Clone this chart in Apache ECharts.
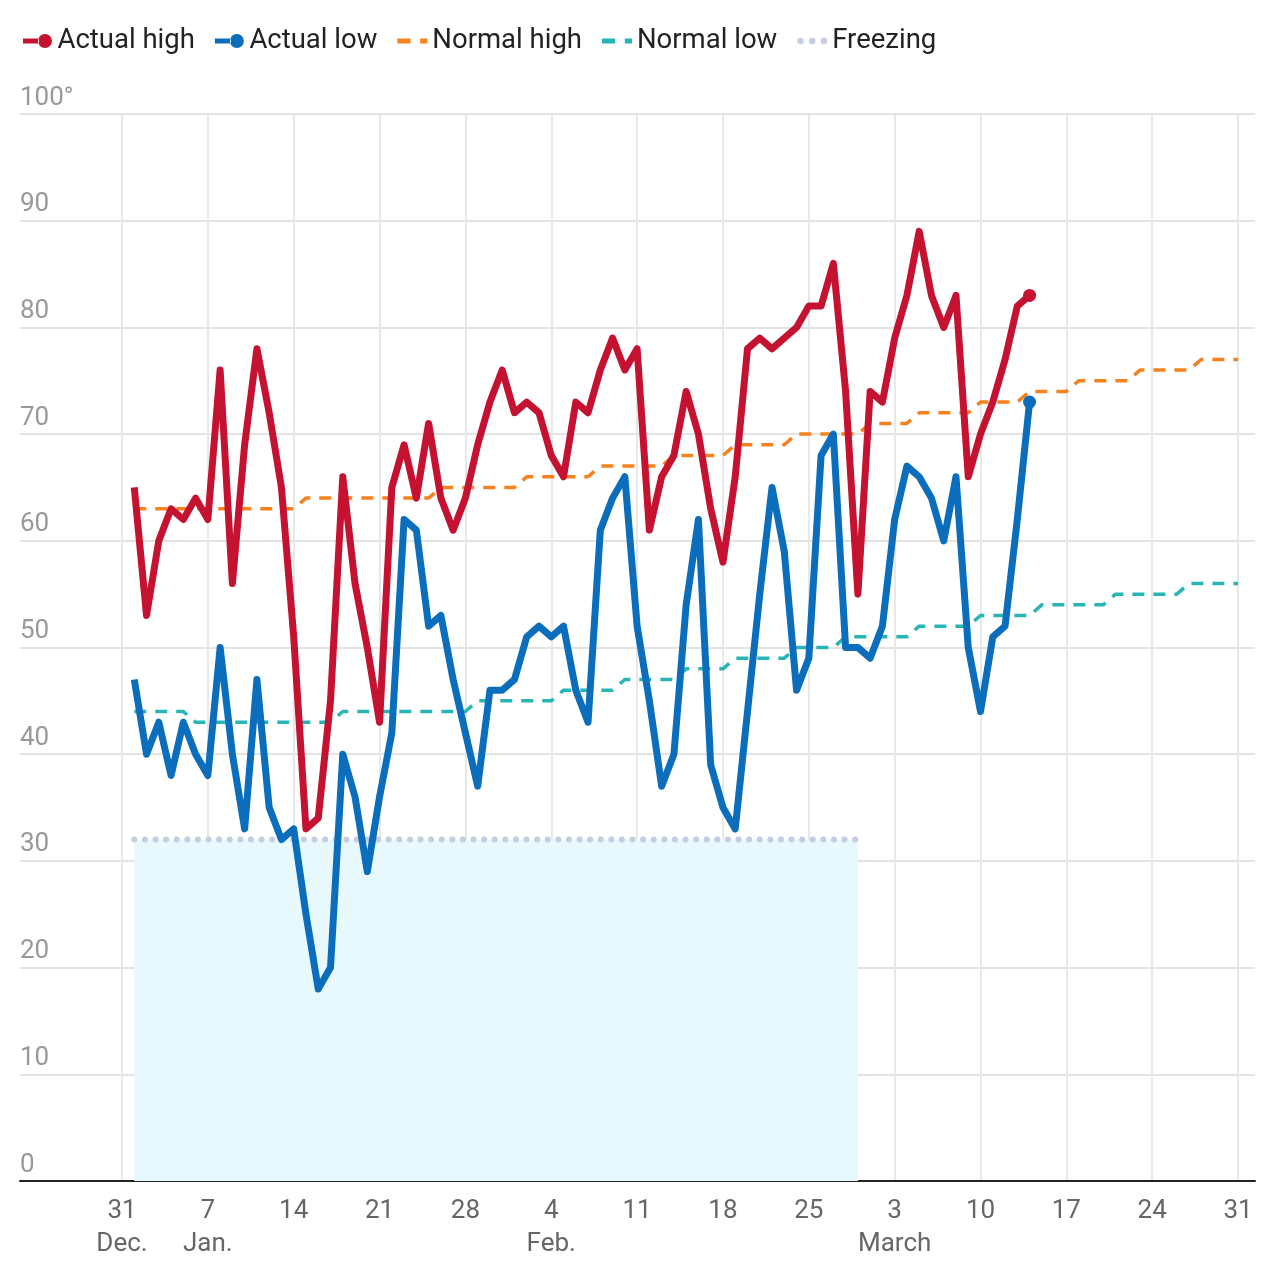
<!DOCTYPE html>
<html><head><meta charset="utf-8">
<script src="https://cdn.jsdelivr.net/npm/echarts@6/dist/echarts.min.js"></script>
<style>html,body{margin:0;padding:0;background:#fff}#chart{width:1280px;height:1280px}</style>
</head><body><div id="chart"></div>
<script>
// day numbers counted from Dec. 31 (Dec. 31 = 0, Jan. 1 = 1, ..., Mar. 31 = 91)
const firstDay = 1;
const actualHigh = [
  65,53,60,63,62,64,62,76,56,69, 78,72,65,51,33,34,45,66,56,50, 43,65,69,64,71,64,61,64,69,73,76,
  72,73,72,68,66,73,72,76,79,76, 78,61,66,68,74,70,63,58,66,78, 79,78,79,80,82,82,86,74,55,
  74,73,79,83,89,83,80,83,66,70, 73,77,82,83
];
const actualLow = [
  47,40,43,38,43,40,38,50,40,33, 47,35,32,33,25,18,20,40,36,29, 36,42,62,61,52,53,47,42,37,46,46,
  47,51,52,51,52,46,43,61,64,66, 52,45,37,40,54,62,39,35,33,44, 55,65,59,46,49,68,70,50,50,
  49,52,62,67,66,64,60,66,50,44, 51,52,62,73
];
const normalHigh = [
  63,63,63,63,63,63,63,63,63,63,63,63,63,63,
  64,64,64,64,64,64,64,64,64,64,64,
  65,65,65,65,65,65,65,
  66,66,66,66,66,66,
  67,67,67,67,67,67,
  68,68,68,68,68,
  69,69,69,69,69,
  70,70,70,70,70,70,
  71,71,71,71,
  72,72,72,72,72,
  73,73,73,73,
  74,74,74,74,
  75,75,75,75,75,
  76,76,76,76,76,
  77,77,77,77
];
const normalLow = [
  44,44,44,44,44,
  43,43,43,43,43,43,43,43,43,43,43,43,
  44,44,44,44,44,44,44,44,44,44,44,
  45,45,45,45,45,45,45,
  46,46,46,46,46,
  47,47,47,47,47,
  48,48,48,48,
  49,49,49,49,49,
  50,50,50,50,
  51,51,51,51,51,51,
  52,52,52,52,52,
  53,53,53,53,53,
  54,54,54,54,54,54,
  55,55,55,55,55,55,
  56,56,56,56,56
];
const freezingDays = [1, 60];
const freezingTemps = [32, 32];
const tickDays = [0,7,14,21,28,35,42,49,56,63,70,77,84,91];
const tickLabels = ['31\nDec.','7\nJan.','14','21','28','4\nFeb.','11','18','25','3\nMarch','10','17','24','31'];

const FONT = 'Roboto, "Noto Sans", sans-serif';
const toPairs = (arr) => arr.map((v, i) => [firstDay + i, v]);
const withEndDot = (arr) => arr.map((v, i) => i === arr.length - 1
  ? { value: [firstDay + i, v], symbol: 'circle', symbolSize: 13 }
  : { value: [firstDay + i, v], symbol: 'none' });

const dotIcon = 'path://M0,4.5 L16,4.5 L16,9.5 L0,9.5 Z M15,7 A7,7 0 1,0 29,7 A7,7 0 1,0 15,7 Z';
const dashIcon = 'path://M0,0 L11,0 L11,4 L0,4 Z M19,0 L25,0 L25,4 L19,4 Z';
const dotsIcon = 'path://M0,2.5 A2.5,2.5 0 1,0 5,2.5 A2.5,2.5 0 1,0 0,2.5 Z M9,2.5 A2.5,2.5 0 1,0 14,2.5 A2.5,2.5 0 1,0 9,2.5 Z M18,2.5 A2.5,2.5 0 1,0 23,2.5 A2.5,2.5 0 1,0 18,2.5 Z';

const chart = echarts.init(document.getElementById('chart'), null, { renderer: 'canvas' });
chart.setOption({
  animation: false,
  backgroundColor: '#fff',
  textStyle: { fontFamily: FONT },
  legend: {
    left: 18, top: 22, itemGap: 20, itemWidth: 30, itemHeight: 14,
    textStyle: { fontSize: 27.5, color: '#222', fontFamily: FONT },
    data: [
      { name: 'Actual high', icon: dotIcon, itemStyle: { color: '#c41230' } },
      { name: 'Actual low', icon: dotIcon, itemStyle: { color: '#0a6ebd' } },
      { name: 'Normal high', icon: dashIcon, itemStyle: { color: '#f5821f' }, itemHeight: 4 },
      { name: 'Normal low', icon: dashIcon, itemStyle: { color: '#27b5b5' }, itemHeight: 4 },
      { name: 'Freezing', icon: dotsIcon, itemStyle: { color: '#c6cce2' }, itemHeight: 5 }
    ]
  },
  grid: { left: 20, right: 25, top: 114, bottom: 99, containLabel: false },
  xAxis: {
    type: 'value', min: -8.317, max: 92.38,
    axisLine: { show: true, onZero: false, lineStyle: { color: '#222', width: 2 } },
    axisTick: { show: false, customValues: tickDays },
    axisLabel: {
      customValues: tickDays, color: '#666', fontSize: 26, lineHeight: 33, margin: 14,
      fontFamily: FONT,
      formatter: (v) => { const i = tickDays.indexOf(v); return i >= 0 ? tickLabels[i] : ''; }
    },
    splitLine: { show: true, lineStyle: { color: '#e8e8e8', width: 2 } }
  },
  yAxis: {
    type: 'value', min: 0, max: 100, interval: 10,
    axisLine: { show: false }, axisTick: { show: false },
    axisLabel: {
      inside: true, margin: 0, color: '#999', fontSize: 26, fontFamily: FONT,
      verticalAlign: 'bottom', align: 'left', padding: [0, 0, 3, 0],
      formatter: (v) => v === 100 ? '100°' : String(v)
    },
    splitLine: { show: true, lineStyle: { color: '#e3e3e3', width: 2 } }
  },
  series: [
    {
      name: 'Freezing', type: 'line', z: 1,
      data: freezingDays.map((d, i) => [d, freezingTemps[i]]),
      symbol: 'none', color: '#c6cce2',
      lineStyle: { color: '#c6cce2', width: 6, type: [0.1, 10.5], cap: 'round' },
      areaStyle: { color: '#e8f9fe', opacity: 1 }
    },
    {
      name: 'Normal high', type: 'line', z: 2, data: toPairs(normalHigh), symbol: 'none',
      color: '#f5821f',
      lineStyle: { color: '#f5821f', width: 3.5, type: [12, 9] }
    },
    {
      name: 'Normal low', type: 'line', z: 2, data: toPairs(normalLow), symbol: 'none',
      color: '#27b5b5',
      lineStyle: { color: '#27b5b5', width: 3.5, type: [12, 9] }
    },
    {
      name: 'Actual high', type: 'line', z: 3, data: withEndDot(actualHigh),
      showSymbol: true, color: '#c41230',
      itemStyle: { color: '#c41230' },
      lineStyle: { color: '#c41230', width: 7, join: 'round' }
    },
    {
      name: 'Actual low', type: 'line', z: 3, data: withEndDot(actualLow),
      showSymbol: true, color: '#0a6ebd',
      itemStyle: { color: '#0a6ebd' },
      lineStyle: { color: '#0a6ebd', width: 7, join: 'round' }
    }
  ]
});
</script></body></html>
